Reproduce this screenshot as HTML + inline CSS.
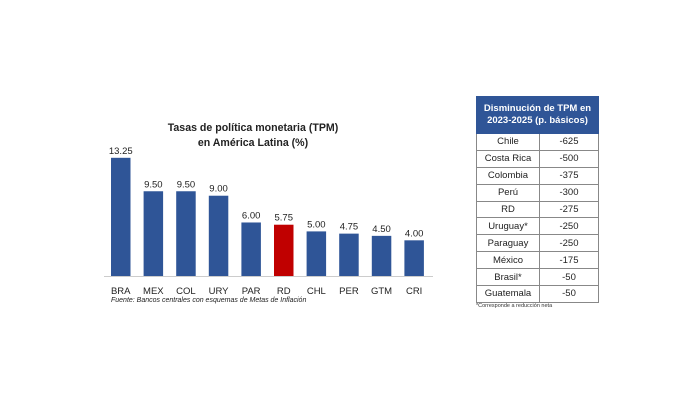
<!DOCTYPE html>
<html><head><meta charset="utf-8"><style>
body{margin:0;width:700px;height:400px;background:#fff;position:relative;overflow:hidden;font-family:"Liberation Sans",sans-serif}
.t{position:absolute;white-space:nowrap}
table{position:absolute;left:476px;top:96px;width:123px;border-collapse:collapse;font-size:9.5px;color:#222}
td{border:1px solid #888;height:15.9px;padding:0;text-align:center}
th{background:#2f5597;color:#fff;font-size:9.5px;font-weight:bold;height:36px;border:1px solid #2f5597;line-height:12px;padding:0}
</style></head><body>
<div class="t" style="left:153px;top:121px;width:200px;text-align:center;font-size:10.6px;font-weight:bold;color:#222;line-height:15px">Tasas de política monetaria (TPM)<br>en América Latina (%)</div>
<svg style="position:absolute;left:0;top:0" width="700" height="400">
<line x1="104" y1="276.5" x2="433" y2="276.5" stroke="#ccc" stroke-width="1"/>
<g font-family="Liberation Sans, sans-serif" font-size="9.5" fill="#222" text-anchor="middle" id="g"></g>
</svg>
<div class="t" style="left:111px;top:297px;font-size:7px;font-style:italic;color:#222">Fuente: Bancos centrales con esquemas de Metas de Inflación</div>
<table>
<tr><th colspan="2">Disminución de TPM en<br>2023-2025 (p. básicos)</th></tr>
<tr><td style="width:62px">Chile</td><td>-625</td></tr>
<tr><td>Costa Rica</td><td>-500</td></tr>
<tr><td>Colombia</td><td>-375</td></tr>
<tr><td>Perú</td><td>-300</td></tr>
<tr><td>RD</td><td>-275</td></tr>
<tr><td>Uruguay*</td><td>-250</td></tr>
<tr><td>Paraguay</td><td>-250</td></tr>
<tr><td>México</td><td>-175</td></tr>
<tr><td>Brasil*</td><td>-50</td></tr>
<tr><td>Guatemala</td><td>-50</td></tr>
</table>
<div class="t" style="left:476px;top:303px;font-size:5.5px;color:#333">*Corresponde a reducción neta</div>
<script>
var d=[["BRA",13.25],["MEX",9.5],["COL",9.5],["URY",9],["PAR",6],["RD",5.75],["CHL",5],["PER",4.75],["GTM",4.5],["CRI",4]];
var g=document.getElementById('g'),s='';
d.forEach(function(e,i){var x=111+i*32.6,h=e[1]*8.92,y=276-h;
s+='<rect x="'+x+'" y="'+y+'" width="19.5" height="'+h+'" fill="'+(e[0]=="RD"?"#c00000":"#2f5597")+'"/>';
s+='<text x="'+(x+9.75)+'" y="'+(y-4)+'">'+e[1].toFixed(2)+'</text>';
s+='<text x="'+(x+9.75)+'" y="294">'+e[0]+'</text>';});
g.innerHTML=s;
</script>
</body></html>
